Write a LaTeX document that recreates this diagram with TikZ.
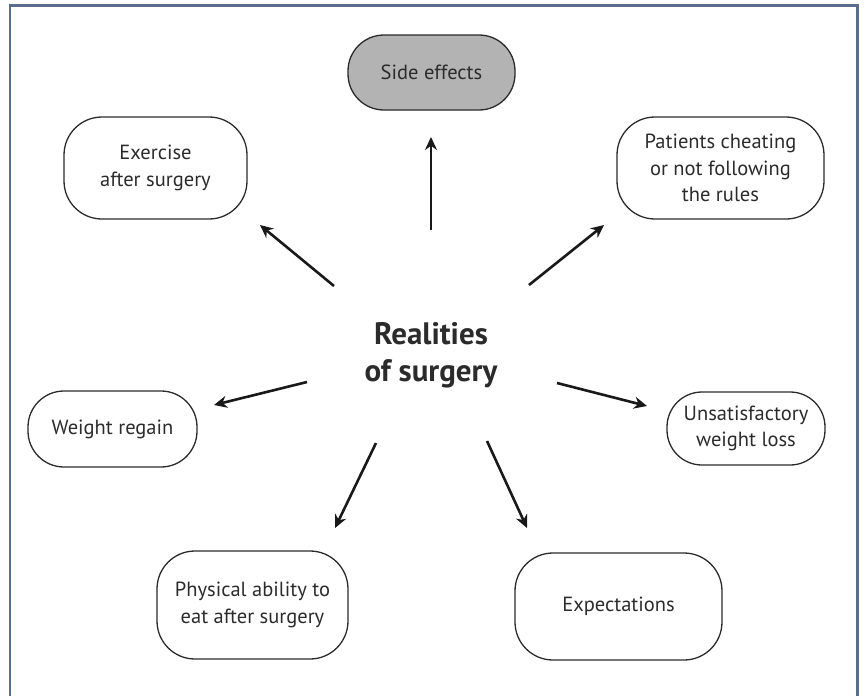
\documentclass[tikz,border=0pt]{standalone}
\usepackage{fontspec}
\setmainfont{PT Sans}
\usetikzlibrary{arrows.meta}
\definecolor{framecol}{HTML}{5A6E8C}
\definecolor{boxfill}{HTML}{B3B3B3}
\definecolor{txtcol}{HTML}{2B2B2B}
\begin{document}
\begin{tikzpicture}[x=1pt,y=-1pt,
  topic/.style={draw=txtcol,line width=1.3pt,rounded corners=38pt,align=center,
    text=txtcol,font=\fontsize{20.5}{26.5}\selectfont,inner sep=0pt},
  arr/.style={line width=2.6pt,draw=black!90,-{Stealth[length=13pt,width=12pt]}}]
\useasboundingbox (0,0) rectangle (865,696);
\draw[framecol,line width=2.2pt] (10,720) -- (10,5.5) -- (857.5,5.5) -- (857.5,720);
\node[topic,fill=boxfill,rounded corners=36pt,minimum width=167pt,minimum height=75pt] (side) at (431.5,72.5) {Side effects};
\node[topic,minimum width=183pt,minimum height=102pt] (exer) at (155.5,168) {Exercise\\after surgery};
\node[topic,minimum width=207pt,minimum height=102pt] (cheat) at (720.5,168) {Patients cheating\\or not following\\the rules};
\node[topic,rounded corners=36pt,minimum width=169pt,minimum height=76pt] (regain) at (112.5,429) {Weight regain};
\node[topic,rounded corners=35pt,minimum width=158pt,minimum height=73pt] (unsat) at (746,428.5) {Unsatisfactory\\weight loss};
\node[topic,minimum width=191pt,minimum height=108pt] (phys) at (252.5,605) {Physical ability to\\eat after surgery};
\node[topic,minimum width=207pt,minimum height=107pt] (expect) at (618.5,606.5) {Expectations};
\node[text=txtcol,align=center,font=\bfseries\fontsize{31}{37}\selectfont] (center) at (431,355) {Realities\\of surgery};
\coordinate (t1) at (431,230); \coordinate (h1) at (431,137);
\coordinate (t2) at (529,285); \coordinate (h2) at (604,225);
\coordinate (t3) at (334,286); \coordinate (h3) at (260,225);
\coordinate (t4) at (307,382); \coordinate (h4) at (214,405);
\coordinate (t5) at (557,383); \coordinate (h5) at (647,406);
\coordinate (t6) at (376,443); \coordinate (h6) at (335,528);
\coordinate (t7) at (487,441); \coordinate (h7) at (527,528);
\foreach \i in {1,...,7} {\draw[arr] (t\i) -- (h\i);}
\end{tikzpicture}
\end{document}
